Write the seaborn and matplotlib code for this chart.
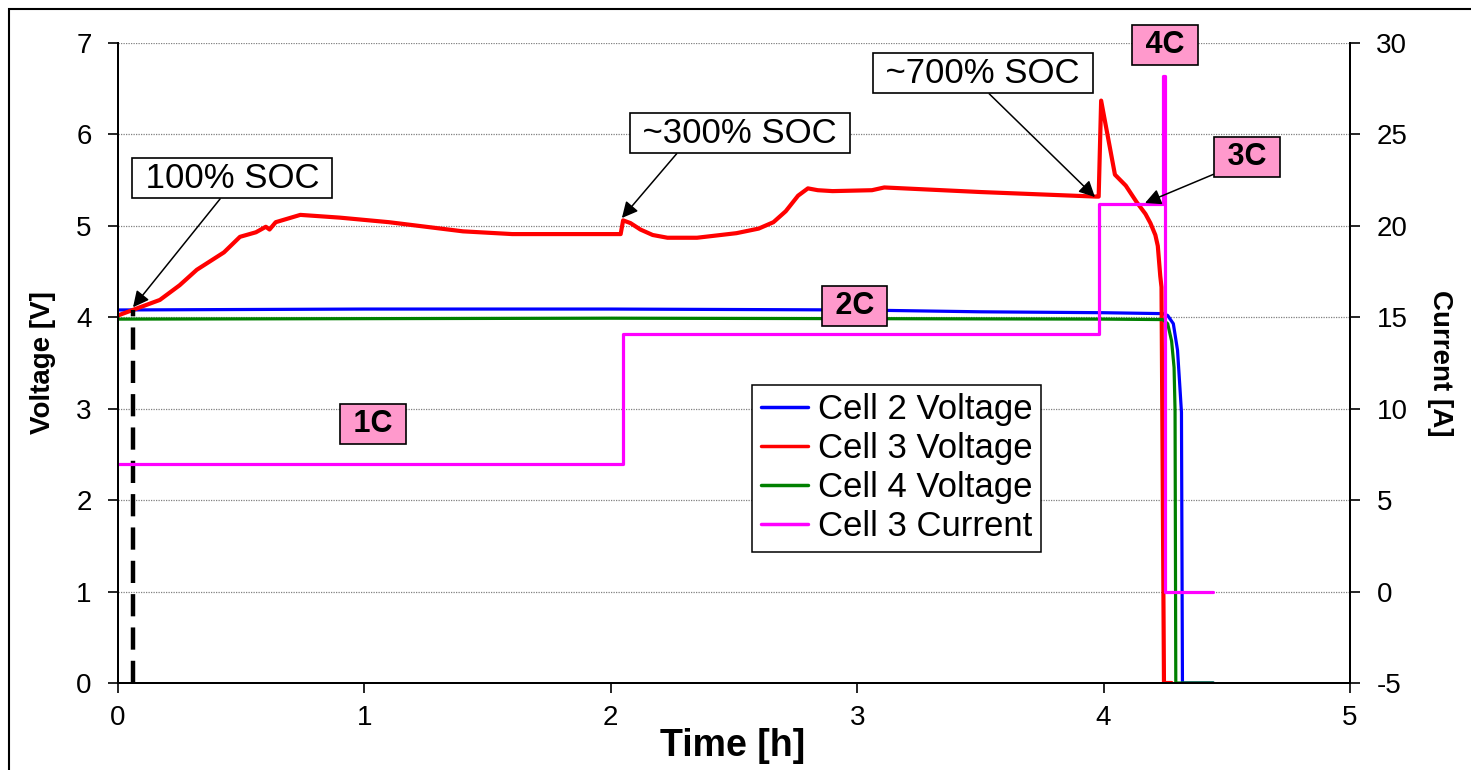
import matplotlib
matplotlib.use("Agg")
import matplotlib.pyplot as plt
from matplotlib.lines import Line2D
from matplotlib.patches import Rectangle
import seaborn as sns
import pandas as pd

sns.set_theme(style="ticks")
plt.rcParams['font.family'] = ['Liberation Sans', 'DejaVu Sans']
plt.rcParams['text.color'] = 'black'
plt.rcParams['axes.labelcolor'] = 'black'
plt.rcParams['xtick.color'] = 'black'
plt.rcParams['ytick.color'] = 'black'
plt.rcParams['axes.unicode_minus'] = False

# -----------------------------
# DATA
# -----------------------------
t_cell2 = [0, 1.0, 2.0, 3.0, 3.5, 4.0, 4.24, 4.26, 4.283, 4.30, 4.31, 4.316, 4.32, 4.445]
v_cell2 = [4.08, 4.09, 4.09, 4.08, 4.06, 4.05, 4.04, 4.02, 3.93, 3.64, 3.22, 2.96, 0.0, 0.0]

t_cell3 = [0, 0.06, 0.17, 0.25, 0.32, 0.43, 0.495, 0.56, 0.60, 0.615, 0.64, 0.74, 0.9,
           1.1, 1.25, 1.4, 1.6, 2.04, 2.05, 2.08, 2.12, 2.17, 2.23, 2.35, 2.51, 2.6,
           2.66, 2.71, 2.76, 2.80, 2.84, 2.90, 3.06, 3.11, 3.5, 3.97, 3.98, 3.99, 4.046,
           4.09, 4.134, 4.17, 4.19, 4.21, 4.22, 4.23, 4.235, 4.245, 4.276]
v_cell3 = [4.02, 4.08, 4.19, 4.35, 4.52, 4.71, 4.88, 4.93, 4.99, 4.96, 5.04, 5.12, 5.09,
           5.04, 4.99, 4.94, 4.91, 4.91, 5.06, 5.03, 4.96, 4.9, 4.87, 4.87, 4.92, 4.97,
           5.04, 5.16, 5.33, 5.41, 5.39, 5.38, 5.39, 5.42, 5.37, 5.32, 5.32, 6.37, 5.56,
           5.44, 5.26, 5.13, 5.03, 4.9, 4.78, 4.45, 4.33, 0.0, 0.0]

t_cell4 = [0, 2.0, 4.0, 4.24, 4.26, 4.276, 4.286, 4.29, 4.293, 4.445]
v_cell4 = [3.98, 3.99, 3.98, 3.975, 3.93, 3.74, 3.45, 2.98, 0.0, 0.0]

t_curr = [0, 2.05, 2.05, 3.98, 3.98, 4.24, 4.24, 4.25, 4.25, 4.445]
i_curr = [7.0, 7.0, 14.1, 14.1, 21.2, 21.2, 28.2, 28.2, 0.0, 0.0]

soc_time = 0.06
soc_volt = 4.08

labels = ["Cell 2 Voltage", "Cell 3 Voltage", "Cell 4 Voltage", "Cell 3 Current"]
colors = ["#0000FF", "#FF0000", "#008000", "#FF00FF"]

df2 = pd.DataFrame({"t": t_cell2, "v": v_cell2})
df3 = pd.DataFrame({"t": t_cell3, "v": v_cell3})
df4 = pd.DataFrame({"t": t_cell4, "v": v_cell4})
dfi = pd.DataFrame({"t": t_curr, "i": i_curr})

# -----------------------------
# FIGURE
# -----------------------------
fig = plt.figure(figsize=(14.71, 7.70), dpi=100)
ax = fig.add_axes([118 / 1471, 1 - 683 / 770, 1232 / 1471, 640 / 770])
ax2 = ax.twinx()

sns.lineplot(data=df2, x="t", y="v", ax=ax, color=colors[0], lw=2.3, sort=False, estimator=None)
sns.lineplot(data=df3, x="t", y="v", ax=ax, color=colors[1], lw=3.0, sort=False, estimator=None)
sns.lineplot(data=df4, x="t", y="v", ax=ax, color=colors[2], lw=2.3, sort=False, estimator=None)
sns.lineplot(data=dfi, x="t", y="i", ax=ax2, color=colors[3], lw=2.3, sort=False, estimator=None)

# dashed marker at 100% SOC
ax.plot([soc_time, soc_time], [0, soc_volt], color="black", lw=3.2, ls=(0, (5, 2.5)))

ax.set_xlim(0, 5)
ax.set_ylim(0, 7)
ax2.set_ylim(-5, 30)
ax.set_xticks(range(0, 6))
ax.set_yticks(range(0, 8))
ax2.set_yticks(range(-5, 31, 5))

ax.yaxis.grid(True, color="#808080", linestyle=(0, (1, 1)), linewidth=0.9)
ax.xaxis.grid(False)
ax2.grid(False)

for a in (ax, ax2):
    a.spines["top"].set_visible(False)
    for s in ("left", "right", "bottom"):
        a.spines[s].set_color("black")
        a.spines[s].set_linewidth(1.4)
    a.tick_params(direction="out", length=7, width=1.2, colors="black",
                  labelsize=20, pad=9)
ax.tick_params(axis="y", pad=12)
ax2.tick_params(axis="y", pad=12)

ax.set_xlabel("Time [h]", fontsize=27, fontweight="bold", va="center")
ax.set_ylabel("Voltage [V]", fontsize=20, fontweight="bold", va="center")
ax2.set_ylabel("Current [A]", fontsize=20, fontweight="bold", rotation=270, va="center")
ax.xaxis.set_label_coords(0.499, -0.098)
ax.yaxis.set_label_coords(-0.061, 0.5)
ax2.yaxis.set_label_coords(1.073, 0.5)

# -----------------------------
# ANNOTATIONS
# -----------------------------
arrow = dict(arrowstyle="-|>", color="black", lw=1.1, mutation_scale=24, shrinkA=0, shrinkB=0)
white_box = dict(boxstyle="square,pad=0.1", fc="white", ec="black", lw=1.2)
pink_box = dict(boxstyle="square,pad=0.15", fc="#FF99CC", ec="black", lw=1.2)

soc_notes = [
    (" 100% SOC ", (0.463, 5.52), (0.061, 4.11), (0.455, 0)),
    (" ~300% SOC ", (2.524, 6.015), (2.045, 5.086), (0.22, 0)),
    (" ~700% SOC ", (3.51, 6.67), (3.965, 5.315), (0.51, 0)),
]
for txt, pos, tip, rel in soc_notes:
    a = dict(arrow, relpos=rel)
    ax2.annotate(txt, xy=tip, xytext=pos, xycoords=ax.transData, textcoords=ax.transData,
                 ha="center", va="center", fontsize=25, bbox=white_box, arrowprops=a, zorder=10)

ax2.annotate(" 3C ", xy=(4.168, 5.25), xytext=(4.582, 5.753), xycoords=ax.transData,
             textcoords=ax.transData, ha="center", va="center", fontsize=22,
             fontweight="bold", bbox=pink_box, arrowprops=dict(arrow, relpos=(0, 0)), zorder=10)

c_notes = [(" 4C ", 4.249, 6.978), (" 2C ", 2.99, 4.123), (" 1C ", 1.035, 2.833)]
for txt, x, y in c_notes:
    ax2.text(x, y, txt, transform=ax.transData, ha="center", va="center", fontsize=22,
             fontweight="bold", bbox=pink_box, zorder=10, clip_on=False)

# -----------------------------
# LEGEND
# -----------------------------
handles = [Line2D([], [], color=c, lw=2.5) for c in colors]
leg = ax2.legend(handles, labels, loc="upper left", bbox_to_anchor=(0.5146, 0.466),
                 borderaxespad=0, fontsize=25, frameon=True, fancybox=False,
                 handlelength=1.35, handletextpad=0.3, labelspacing=0.17,
                 borderpad=0.25)
leg.get_frame().set_edgecolor("black")
leg.get_frame().set_linewidth(1.1)
leg.get_frame().set_alpha(1)
leg.set_zorder(11)

# outer frame of the picture
fig.patches.append(Rectangle((9 / 1471, -0.1), 1.2, 1.1 - 9 / 770, transform=fig.transFigure,
                             fill=False, ec="black", lw=1.5))

fig.savefig("out.png", dpi=100)
